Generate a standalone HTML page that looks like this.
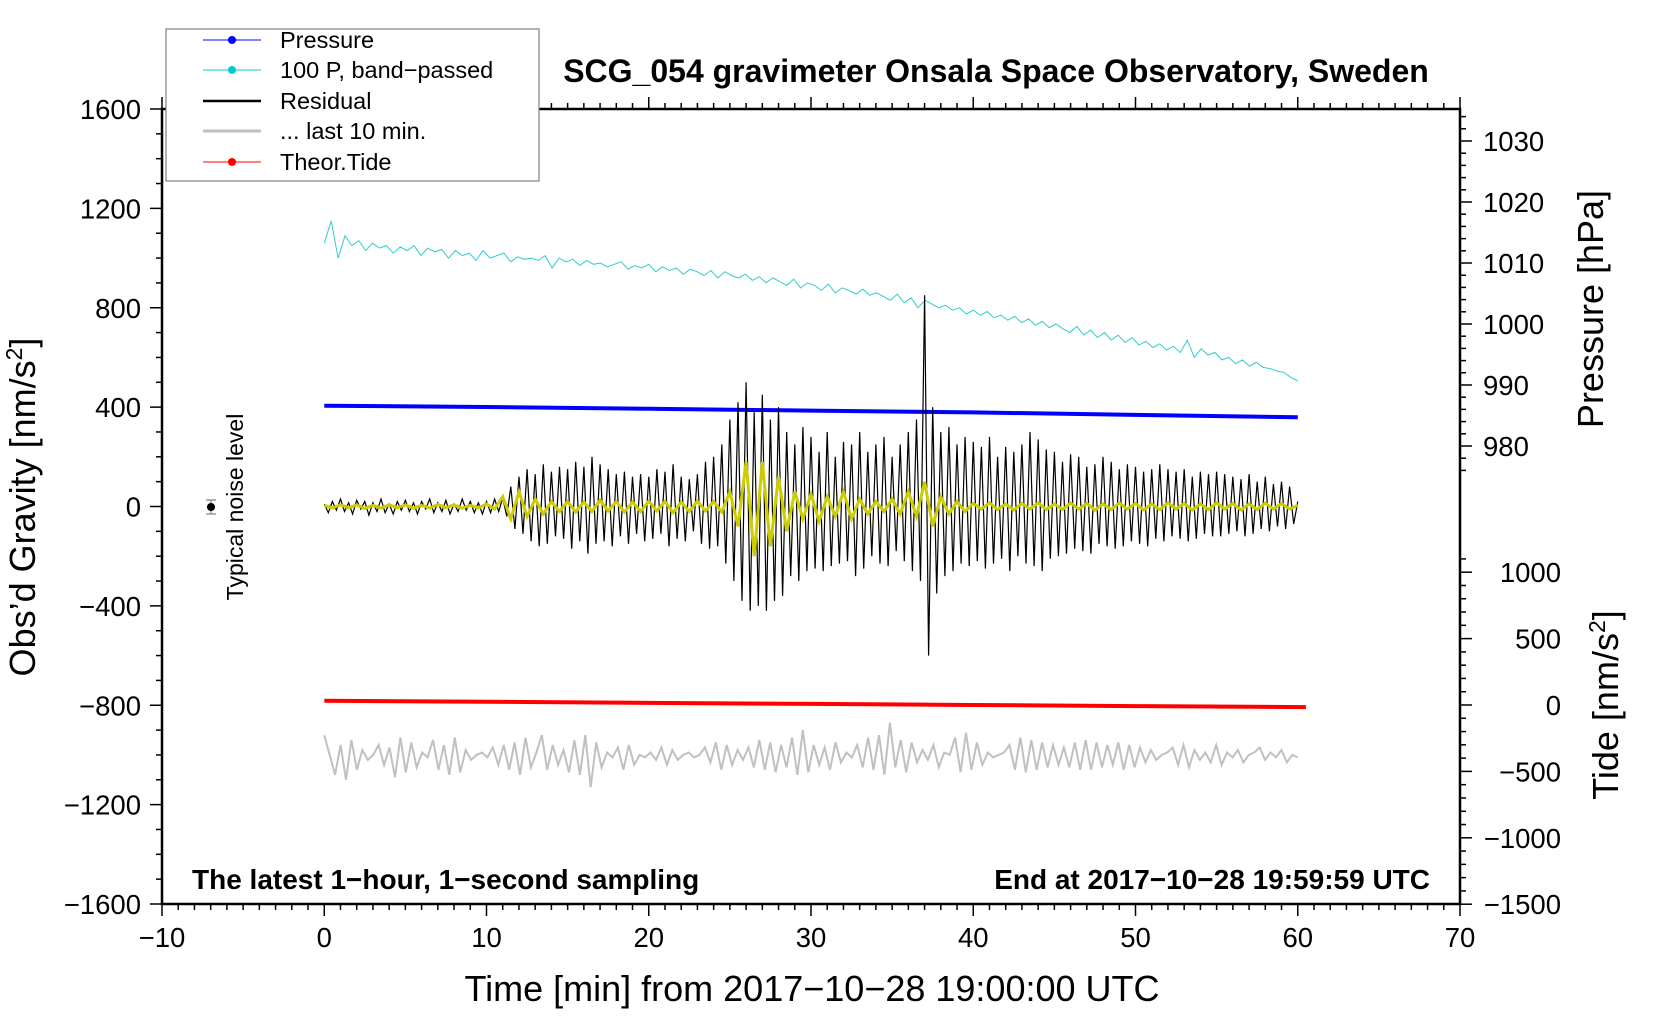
<!DOCTYPE html>
<html><head><meta charset="utf-8"><style>
html,body{margin:0;padding:0;background:#fff;}
svg{display:block;font-family:"Liberation Sans",sans-serif;}
</style></head><body>
<svg id="chart" width="1660" height="1020" viewBox="0 0 1660 1020" xmlns="http://www.w3.org/2000/svg">
<g id="marks"></g>
<g id="axes"></g>
<g>
  <rect x="166" y="29" width="373" height="152" fill="#fff" stroke="#808080" stroke-width="1.2"/>
  <g><line x1="203" y1="40" x2="261" y2="40" stroke="#0000ff" stroke-width="1"/><circle cx="232" cy="40" r="4" fill="#0000ff"/><text x="280" y="48" font-size="23.5">Pressure</text></g>
  <g><line x1="203" y1="70" x2="261" y2="70" stroke="#00cccc" stroke-width="1"/><circle cx="232" cy="70" r="4" fill="#00cccc"/><text x="280" y="78" font-size="23.5">100 P, band−passed</text></g>
  <g><line x1="203" y1="101" x2="261" y2="101" stroke="#000" stroke-width="2.5"/><text x="280" y="109" font-size="23.5">Residual</text></g>
  <g><line x1="203" y1="131" x2="261" y2="131" stroke="#c0c0c0" stroke-width="3"/><text x="280" y="139" font-size="23.5">... last 10 min.</text></g>
  <g><line x1="203" y1="162" x2="261" y2="162" stroke="#ff0000" stroke-width="1"/><circle cx="232" cy="162" r="4" fill="#ff0000"/><text x="280" y="170" font-size="23.5">Theor.Tide</text></g>
</g>
<text x="996" y="82" font-size="32" font-weight="bold" text-anchor="middle">SCG_054 gravimeter Onsala Space Observatory, Sweden</text>
<text x="192" y="889" font-size="28" font-weight="bold">The latest 1−hour, 1−second sampling</text>
<text x="1430" y="889" font-size="28" font-weight="bold" text-anchor="end">End at 2017−10−28 19:59:59 UTC</text>
<text x="812" y="1001" font-size="36" text-anchor="middle">Time [min] from 2017−10−28 19:00:00 UTC</text>
<text transform="translate(35,507) rotate(-90)" font-size="36" text-anchor="middle">Obs’d Gravity [nm/s<tspan font-size="23" dy="-13">2</tspan><tspan dy="13">]</tspan></text>
<text transform="translate(1603,309) rotate(-90)" font-size="36" text-anchor="middle">Pressure [hPa]</text>
<text transform="translate(1618,705) rotate(-90)" font-size="36" text-anchor="middle">Tide [nm/s<tspan font-size="23" dy="-13">2</tspan><tspan dy="13">]</tspan></text>
<text transform="translate(243,507) rotate(-90)" font-size="23" text-anchor="middle">Typical noise level</text>
<g>
  <line x1="211" y1="500" x2="211" y2="514" stroke="#999" stroke-width="1.5"/>
  <line x1="206" y1="500" x2="216" y2="500" stroke="#999" stroke-width="1.5"/>
  <line x1="206" y1="514" x2="216" y2="514" stroke="#999" stroke-width="1.5"/>
  <circle cx="211" cy="507" r="4" fill="#000"/>
</g>
<script>
// ---- data ----
const pressT = [0, 10, 20, 30, 40, 50, 60];
const pressV = [986.6, 986.4, 986.1, 985.8, 985.5, 985.1, 984.7];
const tideT = [0, 10, 20, 30, 40, 50, 60.5];
const tideV = [32, 25, 16, 8, 0, -8, -16];
const cyanSpan = 60;
const cyanV = [1060,1150,1000,1090,1050,1070,1030,1060,1040,1050,1020,1045,1030,1050,1010,1040,1025,1035,1000,1030,
 1010,1020,990,1030,1000,1010,1020,985,1005,995,1000,990,1010,960,1000,985,995,970,990,975,
 980,965,975,985,955,970,960,975,945,965,950,960,935,955,945,930,950,920,945,930,
 920,935,910,925,900,920,905,890,915,880,900,890,870,895,860,880,870,855,875,850,
 860,845,830,855,820,840,800,830,815,800,810,790,800,775,790,770,785,760,770,750,
 765,740,755,730,745,720,735,715,700,725,690,710,680,700,670,690,660,680,650,665,
 640,655,630,645,620,670,600,635,610,620,590,600,575,590,565,580,560,555,545,540,520,505];
const resSpan = 60;
const resV = [10,-25,20,-15,30,-20,15,-30,25,-10,20,-35,15,-20,30,-25,10,-30,20,-15,
 25,-20,15,-30,20,-10,30,-25,15,-20,25,-30,10,-20,30,-15,20,-25,15,-30,
 20,-25,30,-20,35,-40,80,-90,120,-110,150,-140,130,-160,170,-150,140,-120,160,-130,
 150,-170,180,-140,160,-190,200,-150,170,-140,150,-160,130,-120,140,-150,120,-110,130,-140,
 120,-130,150,-110,140,-160,170,-130,120,-140,110,-100,130,-150,180,-170,200,-160,250,-230,
 350,-300,420,-380,500,-420,380,-400,450,-420,350,-380,400,-360,300,-280,250,-300,320,-260,
 280,-250,220,-260,300,-240,200,-230,260,-220,250,-280,300,-250,220,-200,250,-230,280,-240,
 200,-180,250,-220,300,-260,350,-300,850,-600,400,-350,300,-280,320,-260,250,-230,280,-240,
 260,-220,240,-250,280,-230,200,-210,240,-260,220,-200,250,-230,300,-240,270,-260,230,-210,
 220,-200,180,-190,210,-170,200,-180,160,-190,170,-150,200,-160,180,-170,150,-160,170,-140,
 160,-150,140,-160,150,-130,170,-140,150,-120,140,-130,150,-140,120,-130,140,-110,130,-120,
 140,-120,130,-110,120,-100,110,-120,130,-110,100,-90,120,-100,90,-80,100,-90,80,-70,20];
const yelSpan = 60;
const yelV = [5,-6,7,-5,6,-8,5,-6,7,-5,6,-7,5,-6,8,-5,6,-7,5,-6,
 10,-10,40,-50,60,-40,30,-30,20,-20,
 20,-22,18,-20,25,-18,20,-22,18,-20,22,-18,20,-25,18,-20,22,-18,20,-22,
 60,-80,180,-200,180,-160,120,-100,60,-50,
 50,-60,40,-40,60,-50,30,-30,20,-20,
 30,-30,60,-40,100,-80,40,-30,20,-20,
 12,-10,15,-12,10,-14,12,-10,15,-12,10,-12,14,-10,12,-15,10,-12,14,-10,
 12,-14,10,-12,15,-10,12,-14,10,-12,15,-10,12,-14,10,-12,14,-10,12,-10,5];
const graySpan = 60;
const grayV = [-920,-1000,-1080,-960,-1100,-940,-1060,-980,-1020,-1000,-960,-1040,-970,-1090,-930,-1070,-950,-1050,-990,-1010,
 -940,-1060,-960,-1080,-930,-1070,-980,-1020,-1000,-990,-1010,-970,-1040,-960,-1060,-950,-1080,-930,-1050,-990,
 -920,-1060,-960,-1040,-980,-1070,-940,-1080,-920,-1130,-950,-1050,-990,-1010,-970,-1060,-960,-1040,-1000,-1010,
 -990,-1020,-970,-1040,-980,-1020,-1000,-990,-1010,-1000,-970,-1030,-950,-1060,-960,-1040,-980,-1020,-970,-1050,
 -940,-1060,-950,-1070,-960,-1050,-930,-1080,-900,-1070,-960,-1040,-970,-1060,-950,-1030,-990,-1010,-960,-1050,
 -930,-1060,-920,-1080,-870,-1050,-940,-1070,-950,-1030,-980,-1020,-960,-1050,-990,-1000,-930,-1070,-910,-1060,
 -950,-1040,-990,-1010,-1000,-990,-960,-1060,-930,-1070,-940,-1060,-950,-1050,-960,-1040,-970,-1050,-950,-1060,
 -940,-1060,-950,-1050,-960,-1040,-950,-1060,-960,-1050,-970,-1030,-980,-1020,-1000,-990,-970,-1040,-960,-1050,
 -980,-1020,-990,-1030,-960,-1040,-990,-1010,-980,-1030,-1000,-990,-970,-1020,-990,-1010,-980,-1030,-1000,-1010];

// ---- scales ----
const X0 = 162, X1 = 1460, Y0 = 109, Y1 = 904;
const xs = t => X0 + (t + 10) / 80 * (X1 - X0);
const yl = v => (Y0 + Y1) / 2 - v * (Y1 - Y0) / 3200;
const yp = p => 446 - (p - 980) * (446 - 141) / 50;
const yt = v => 705 - v * (Y1 - 572) / 2500;

const NS = "http://www.w3.org/2000/svg";
const marks = document.getElementById('marks');
const axes = document.getElementById('axes');
function mk(tag, attrs, parent) {
  const e = document.createElementNS(NS, tag);
  for (const k in attrs) e.setAttribute(k, attrs[k]);
  parent.appendChild(e);
  return e;
}
function spanPath(span, vals, yf) {
  const step = span / (vals.length - 1);
  return vals.map((v, i) => (i ? 'L' : 'M') + xs(i * step).toFixed(1) + ' ' + yf(v).toFixed(1)).join(' ');
}
function xyPath(ts, vs, yf) {
  return ts.map((t, i) => (i ? 'L' : 'M') + xs(t).toFixed(1) + ' ' + yf(vs[i]).toFixed(1)).join(' ');
}

let p;
p = mk('path', {d: spanPath(cyanSpan, cyanV, yl), fill: 'none', stroke: '#33cccc', 'stroke-width': 1}, marks);


p = mk('path', {d: xyPath(pressT, pressV, yp), fill: 'none', stroke: '#0000ff', 'stroke-width': 4}, marks);


p = mk('path', {d: spanPath(resSpan, resV, yl), fill: 'none', stroke: '#000', 'stroke-width': 1.2}, marks);


p = mk('path', {d: spanPath(yelSpan, yelV, yl), fill: 'none', stroke: '#cccc00', 'stroke-width': 3}, marks);


p = mk('path', {d: xyPath(tideT, tideV, yt), fill: 'none', stroke: '#ff0000', 'stroke-width': 4}, marks);


p = mk('path', {d: spanPath(graySpan, grayV, yl), fill: 'none', stroke: '#c0c0c0', 'stroke-width': 2}, marks);



// ---- frame ----
const fr = mk('rect', {x: X0, y: Y0, width: X1 - X0, height: Y1 - Y0, fill: 'none', stroke: '#000', 'stroke-width': 2.5}, axes);



const xTicks = [-10, 0, 10, 20, 30, 40, 50, 60, 70];
const yTicks = [-1600, -1200, -800, -400, 0, 400, 800, 1200, 1600];
const pTicks = [980, 990, 1000, 1010, 1020, 1030];
const tTicks = [-1500, -1000, -500, 0, 500, 1000];

for (let t = -10; t <= 70; t += 1) {
  const major = t % 10 === 0;
  mk('line', {x1: xs(t), y1: Y1, x2: xs(t), y2: Y1 + (major ? 12 : 6), stroke: '#000', 'stroke-width': 1.5}, axes);
  mk('line', {x1: xs(t), y1: Y0, x2: xs(t), y2: Y0 - (major ? 12 : 6), stroke: '#000', 'stroke-width': 1.5}, axes);
}
xTicks.forEach(t => {
  const e = mk('text', {x: xs(t), y: 947, 'font-size': 27.5, 'text-anchor': 'middle'}, axes);
  e.textContent = (t < 0 ? '−' : '') + Math.abs(t);
  
  
});
for (let v = -1600; v <= 1600; v += 100) {
  const major = v % 400 === 0;
  mk('line', {x1: X0, y1: yl(v), x2: X0 - (major ? 12 : 6), y2: yl(v), stroke: '#000', 'stroke-width': 1.5}, axes);
}
yTicks.forEach(v => {
  const e = mk('text', {x: 141, y: yl(v) + 10, 'font-size': 27.5, 'text-anchor': 'end'}, axes);
  e.textContent = (v < 0 ? '−' : '') + Math.abs(v);
  
  
});
for (let p2 = 976; p2 <= 1034; p2 += 2) {
  const major = p2 % 10 === 0;
  mk('line', {x1: X1, y1: yp(p2), x2: X1 + (major ? 12 : 6), y2: yp(p2), stroke: '#000', 'stroke-width': 1.5}, axes);
}
pTicks.forEach(v => {
  const e = mk('text', {x: 1483, y: yp(v) + 10, 'font-size': 27.5}, axes);
  e.textContent = v;
  
  
});
for (let v = -1500; v <= 1100; v += 100) {
  const major = v % 500 === 0;
  mk('line', {x1: X1, y1: yt(v), x2: X1 + (major ? 12 : 6), y2: yt(v), stroke: '#000', 'stroke-width': 1.5}, axes);
}
tTicks.forEach(v => {
  const e = mk('text', {x: 1561, y: yt(v) + 10, 'font-size': 27.5, 'text-anchor': 'end'}, axes);
  e.textContent = (v < 0 ? '−' : '') + Math.abs(v);
  
  
});
</script>
</svg>
</body></html>
